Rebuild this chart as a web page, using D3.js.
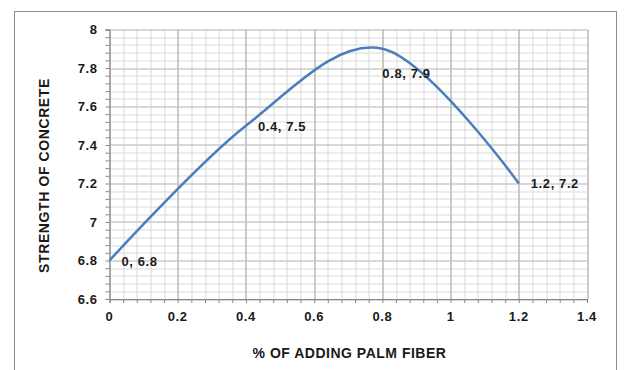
<!DOCTYPE html>
<html>
<head>
<meta charset="utf-8">
<script src="https://cdn.jsdelivr.net/npm/d3@7"></script>
<style>
  body { margin: 0; background: #fff; }
  text { font-family: Arial, "Liberation Sans", sans-serif; font-weight: bold; fill: #1a1a1a; }
</style>
</head>
<body>
<div id="chart"></div>
<script>
// data
var fiberPct = [0, 0.4, 0.8, 1.2];
var strength = [6.8, 7.5, 7.9, 7.2];
var xTicks = [0, 0.2, 0.4, 0.6, 0.8, 1, 1.2, 1.4];
var yTicks = [6.6, 6.8, 7, 7.2, 7.4, 7.6, 7.8, 8];

var svgWidth = 625;
var svgHeight = 370;

var margin = {
  top: 29.5,
  right: 38,
  bottom: 71,
  left: 109.5
};

var width = svgWidth - margin.left - margin.right;
var height = svgHeight - margin.top - margin.bottom;

var svg = d3.select("#chart")
  .append("svg")
  .attr("width", svgWidth)
  .attr("height", svgHeight);

// outer chart border
svg.append("rect")
  .attr("x", 14.5)
  .attr("y", 11.5)
  .attr("width", 602)
  .attr("height", 380)
  .attr("fill", "none")
  .attr("stroke", "#8c8c8c")
  .attr("stroke-width", 1);

var chartGroup = svg.append("g")
  .attr("transform", `translate(${margin.left}, ${margin.top})`);

var xScale = d3.scaleLinear().domain([0, 1.4]).range([0, width]);
var yScale = d3.scaleLinear().domain([6.6, 8]).range([height, 0]);

// minor grid every 0.04 on both axes
var xMinor = d3.range(0, 36).map(i => +(i * 0.04).toFixed(2));
var yMinor = d3.range(0, 36).map(i => +(6.6 + i * 0.04).toFixed(2));

chartGroup.append("g")
  .selectAll("line")
  .data(xMinor)
  .enter()
  .append("line")
  .attr("x1", d => Math.round(xScale(d)) + 0.5)
  .attr("x2", d => Math.round(xScale(d)) + 0.5)
  .attr("y1", 0)
  .attr("y2", height)
  .attr("stroke", "#d9d9d9");

chartGroup.append("g")
  .selectAll("line")
  .data(yMinor)
  .enter()
  .append("line")
  .attr("x1", 0)
  .attr("x2", width)
  .attr("y1", d => Math.round(yScale(d)) + 0.5)
  .attr("y2", d => Math.round(yScale(d)) + 0.5)
  .attr("stroke", "#d9d9d9");

// major grid
chartGroup.append("g")
  .selectAll("line")
  .data(xTicks)
  .enter()
  .append("line")
  .attr("x1", d => Math.round(xScale(d)) + 0.5)
  .attr("x2", d => Math.round(xScale(d)) + 0.5)
  .attr("y1", 0)
  .attr("y2", height)
  .attr("stroke", "#a6a6a6");

chartGroup.append("g")
  .selectAll("line")
  .data(yTicks)
  .enter()
  .append("line")
  .attr("x1", 0)
  .attr("x2", width)
  .attr("y1", d => Math.round(yScale(d)) + 0.5)
  .attr("y2", d => Math.round(yScale(d)) + 0.5)
  .attr("stroke", "#c4c4c4");

// axes
var bottomAxis = d3.axisBottom(xScale)
  .tickValues(xMinor.concat([1.4]))
  .tickSize(4)
  .tickFormat("");
var leftAxis = d3.axisLeft(yScale)
  .tickValues(yMinor.concat([8]))
  .tickSize(4)
  .tickFormat("");

var xAxis = chartGroup.append("g")
  .attr("transform", `translate(0, ${height})`)
  .call(bottomAxis);
var yAxis = chartGroup.append("g")
  .call(leftAxis);

[xAxis, yAxis].forEach(function(ax) {
  ax.selectAll("path, line").attr("stroke", "#868686");
});

// tick labels
chartGroup.append("g")
  .selectAll("text")
  .data(xTicks)
  .enter()
  .append("text")
  .attr("x", d => xScale(d))
  .attr("y", height + 22)
  .attr("text-anchor", "middle")
  .style("font-size", "13px")
  .style("letter-spacing", "0.6px")
  .text(d => d);

chartGroup.append("g")
  .selectAll("text")
  .data(yTicks)
  .enter()
  .append("text")
  .attr("x", -12)
  .attr("y", d => yScale(d) + 4.5)
  .attr("text-anchor", "end")
  .style("font-size", "13px")
  .style("letter-spacing", "0.6px")
  .text(d => d);

// smoothed line like Excel
var line = d3.line()
  .x(d => xScale(d[0]))
  .y(d => yScale(d[1]))
  .curve(d3.curveCardinal.tension(0));

var points = fiberPct.map((x, i) => [x, strength[i]]);

chartGroup.append("path")
  .datum(points)
  .attr("d", line)
  .attr("fill", "none")
  .attr("stroke", "#4a7ebb")
  .attr("stroke-width", 2.5);

// data labels
var labelOffsets = [[12, 5.5], [12, 5], [0, 29], [12, 4.5]];

chartGroup.append("g")
  .selectAll("text")
  .data(points)
  .enter()
  .append("text")
  .attr("x", (d, i) => xScale(d[0]) + labelOffsets[i][0])
  .attr("y", (d, i) => yScale(d[1]) + labelOffsets[i][1])
  .style("font-size", "13px")
  .style("letter-spacing", "0.6px")
  .text(d => `${d[0]}, ${d[1]}`);

// axis titles
svg.append("text")
  .attr("x", 349.5)
  .attr("y", 357.5)
  .attr("text-anchor", "middle")
  .style("font-size", "14px")
  .style("letter-spacing", "0.5px")
  .text("% OF ADDING PALM FIBER");

svg.append("text")
  .attr("transform", "translate(49, 175.5) rotate(-90)")
  .attr("text-anchor", "middle")
  .style("font-size", "14px")
  .style("letter-spacing", "0.6px")
  .text("STRENGTH OF CONCRETE");
</script>
</body>
</html>
